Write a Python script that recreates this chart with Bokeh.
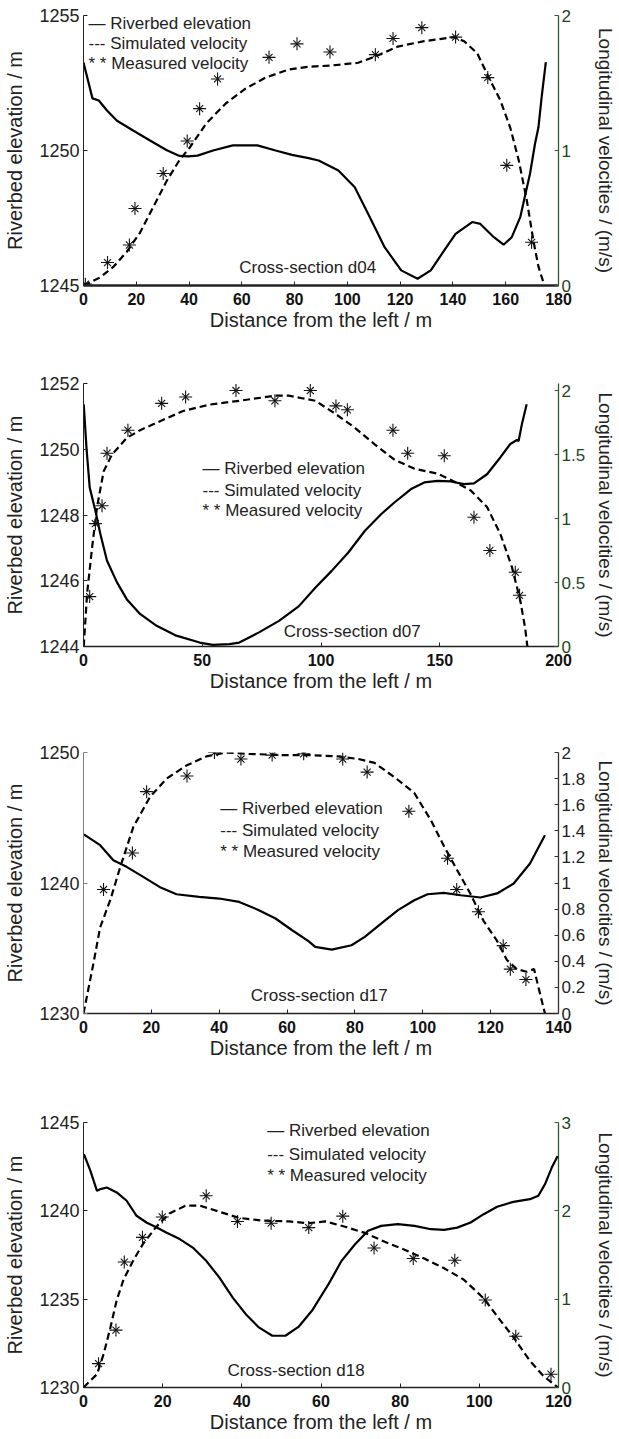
from bokeh.plotting import figure
from bokeh.models import Range1d, LinearAxis, FixedTicker, CustomJSTickFormatter, Label
from bokeh.layouts import column
from bokeh.embed import file_html
from bokeh.resources import INLINE

FONT = "Liberation Sans"

# ---------------- data: cross-section d04 ----------------
d04_bed_x = [0, 3.4, 5.8, 8.9, 12.7, 18.8, 25.2, 31.4, 36.4, 39.6, 43.2, 49.1, 56.6, 65.9, 72.8, 79.0, 85.3,
             89.1, 96.6, 102.8, 107.9, 114.1, 120.4, 126.6, 131.6, 136.7, 141.0, 147.3, 150.4, 155.5, 159.2,
             162.3, 165.5, 169.2, 171.1, 172.4, 173.6, 175.2]
d04_bed_z = [1253.26, 1251.93, 1251.85, 1251.48, 1251.10, 1250.74, 1250.37, 1250.02, 1249.80, 1249.78, 1249.81,
             1250.00, 1250.19, 1250.19, 1250.00, 1249.84, 1249.72, 1249.63, 1249.26, 1248.64, 1247.65, 1246.42,
             1245.56, 1245.25, 1245.56, 1246.30, 1246.91, 1247.35, 1247.28, 1246.79, 1246.51, 1246.79, 1247.53,
             1249.14, 1250.25, 1250.86, 1251.97, 1253.27]
d04_sim_x = [0, 6.3, 11.4, 16.4, 21.4, 26.4, 31.4, 36.4, 40.2, 46.5, 54.0, 61.5, 69.0, 77.8, 85.3, 94.1, 104.1,
             111.0, 119.1, 129.1, 140.4, 144.2, 149.2, 153.6, 158.0, 161.7, 164.9, 168.0, 170.5, 172.4, 174.5]
d04_sim_v = [0.0, 0.06, 0.14, 0.25, 0.39, 0.58, 0.77, 0.93, 1.02, 1.20, 1.35, 1.46, 1.54, 1.60, 1.62, 1.63, 1.65,
             1.70, 1.77, 1.81, 1.84, 1.81, 1.72, 1.54, 1.37, 1.17, 0.93, 0.63, 0.33, 0.14, 0.01]
d04_meas_x = [0.7, 9.1, 17.4, 19.5, 30.2, 39.3, 44.0, 50.8, 70.3, 80.9, 93.4, 110.6, 117.3, 128.2, 141.0, 153.2,
              160.4, 169.8]
d04_meas_v = [0.01, 0.17, 0.30, 0.57, 0.83, 1.07, 1.31, 1.53, 1.69, 1.79, 1.73, 1.71, 1.83, 1.91, 1.84, 1.54,
              0.89, 0.32]

# ---------------- data: cross-section d07 ----------------
d07_bed_x = [0.1, 1.25, 2.6, 5.0, 7.1, 9.9, 14.1, 18.2, 23.8, 30.8, 39.1, 48.9, 54.4, 61.4, 65.6, 73.9, 82.3,
             90.6, 97.6, 104.5, 111.5, 118.5, 125.4, 130.9, 137.9, 143.5, 149.1, 154.6, 160.2, 164.4, 169.9,
             175.5, 179.7, 182.5, 183.2, 184.6, 186.6]
d07_bed_z = [1251.37, 1250.05, 1248.84, 1248.13, 1247.42, 1246.61, 1245.95, 1245.44, 1244.99, 1244.63, 1244.33,
             1244.12, 1244.05, 1244.07, 1244.12, 1244.43, 1244.78, 1245.22, 1245.79, 1246.30, 1246.86, 1247.52,
             1248.03, 1248.38, 1248.79, 1248.99, 1249.04, 1249.02, 1248.94, 1248.96, 1249.24, 1249.75, 1250.16,
             1250.28, 1250.25, 1250.77, 1251.37]
d07_sim_x = [0.1, 1.5, 3.6, 5.7, 8.5, 12.0, 18.2, 23.8, 32.2, 41.9, 53.0, 65.6, 80.9, 86.4, 92.0, 97.6, 105.9,
             114.2, 122.6, 130.9, 139.2, 149.1, 156.0, 163.0, 169.9, 175.5, 180.4, 183.9, 185.9, 186.9]
d07_sim_v = [0.0, 0.41, 0.77, 1.09, 1.37, 1.50, 1.63, 1.69, 1.76, 1.84, 1.89, 1.92, 1.96, 1.96, 1.94, 1.92, 1.82,
             1.71, 1.58, 1.46, 1.39, 1.35, 1.29, 1.22, 1.09, 0.88, 0.62, 0.36, 0.15, 0.0]
d07_meas_x = [2.6, 5.0, 7.8, 9.9, 18.7, 32.9, 43.0, 64.2, 80.6, 95.5, 106.3, 111.1, 130.3, 136.5, 151.9, 164.4,
              171.1, 181.8, 183.6]
d07_meas_v = [0.39, 0.96, 1.10, 1.51, 1.69, 1.90, 1.95, 2.00, 1.92, 2.00, 1.88, 1.85, 1.69, 1.51, 1.49, 1.01,
              0.75, 0.58, 0.40]

# ---------------- data: cross-section d17 ----------------
d17_bed_x = [0.1, 4.9, 8.8, 12.7, 17.6, 22.4, 27.4, 34.1, 40.0, 45.9, 51.7, 56.6, 61.5, 66.3, 68.3, 73.2, 79.0,
             82.9, 87.8, 92.7, 97.5, 101.4, 106.2, 111.2, 117.0, 121.9, 126.8, 131.6, 136.0]
d17_bed_z = [1243.72, 1242.90, 1241.75, 1241.24, 1240.47, 1239.70, 1239.14, 1238.93, 1238.81, 1238.55, 1237.92,
             1237.28, 1236.38, 1235.55, 1235.10, 1234.90, 1235.23, 1235.87, 1236.90, 1237.92, 1238.68, 1239.14,
             1239.24, 1239.06, 1238.89, 1239.20, 1239.96, 1241.49, 1243.66]
d17_sim_x = [0, 2.9, 4.9, 7.9, 10.8, 14.7, 19.6, 24.5, 30.3, 36.2, 42.0, 48.8, 58.5, 66.3, 75.1, 81.0, 85.8, 91.7,
             97.5, 102.4, 106.3, 110.1, 114.0, 117.9, 121.8, 124.8, 127.7, 130.6, 132.8, 134.1, 136.0]
d17_sim_v = [0.0, 0.38, 0.66, 0.87, 1.12, 1.43, 1.66, 1.80, 1.90, 1.97, 2.00, 1.99, 1.98, 1.98, 1.97, 1.95, 1.92,
             1.81, 1.69, 1.48, 1.28, 1.10, 0.92, 0.71, 0.56, 0.41, 0.34, 0.32, 0.34, 0.20, 0.0]
d17_meas_x = [5.9, 14.4, 18.6, 30.5, 38.6, 46.4, 55.6, 64.9, 76.4, 83.6, 95.9, 107.3, 110.0, 116.4, 123.7, 125.8,
              130.4]
d17_meas_v = [0.95, 1.23, 1.70, 1.82, 2.00, 1.95, 1.98, 1.99, 1.95, 1.85, 1.55, 1.19, 0.95, 0.78, 0.52, 0.34, 0.26]

# ---------------- data: cross-section d18 ----------------
d18_bed_x = [0.1, 1.75, 3.4, 4.3, 5.9, 8.4, 10.9, 13.4, 15.9, 18.5, 20.9, 24.3, 27.6, 31.0, 34.3, 37.7, 41.0,
             44.3, 47.7, 51.0, 54.4, 57.7, 61.9, 65.2, 68.6, 71.9, 75.2, 79.4, 83.6, 87.8, 91.1, 94.4, 97.8, 101.1,
             104.5, 108.6, 112.8, 114.9, 116.6, 118.3, 119.8]
d18_bed_z = [1243.21, 1242.26, 1241.13, 1241.23, 1241.32, 1241.04, 1240.57, 1239.72, 1239.34, 1239.06, 1238.77,
             1238.40, 1237.92, 1237.17, 1236.23, 1235.09, 1234.15, 1233.40, 1232.93, 1232.93, 1233.45, 1234.34,
             1235.85, 1237.17, 1238.11, 1238.87, 1239.15, 1239.25, 1239.15, 1238.96, 1238.92, 1239.05, 1239.34,
             1239.81, 1240.23, 1240.51, 1240.66, 1240.85, 1241.51, 1242.45, 1243.11]
d18_sim_x = [0, 3.4, 5.1, 6.8, 8.4, 10.1, 12.6, 15.1, 18.4, 21.7, 25.9, 29.3, 34.3, 39.3, 45.2, 51.9, 56.9, 61.1,
             66.1, 71.1, 76.1, 81.1, 86.1, 91.1, 96.1, 101.1, 105.3, 108.6, 112.8, 116.2, 119.9]
d18_sim_v = [0.0, 0.15, 0.38, 0.68, 0.99, 1.22, 1.44, 1.63, 1.82, 1.97, 2.06, 2.06, 1.99, 1.92, 1.89, 1.88, 1.86,
             1.88, 1.82, 1.75, 1.65, 1.56, 1.46, 1.35, 1.22, 1.01, 0.76, 0.57, 0.30, 0.13, 0.0]
d18_meas_x = [3.8, 8.2, 10.3, 14.9, 19.9, 31.0, 38.9, 47.4, 56.9, 65.5, 73.4, 83.3, 93.8, 101.5, 109.2, 118.1]
d18_meas_v = [0.27, 0.65, 1.42, 1.70, 1.93, 2.17, 1.88, 1.86, 1.81, 1.94, 1.58, 1.46, 1.44, 0.99, 0.58, 0.15]

# ---------------- axes / labels ----------------
x_ticks = {"d04": [0, 20, 40, 60, 80, 100, 120, 140, 160, 180],
           "d07": [0, 50, 100, 150, 200],
           "d17": [0, 20, 40, 60, 80, 100, 120, 140],
           "d18": [0, 20, 40, 60, 80, 100, 120]}
elev_ticks = {"d04": [1245, 1250, 1255],
              "d07": [1244, 1246, 1248, 1250, 1252],
              "d17": [1230, 1240, 1250],
              "d18": [1230, 1235, 1240, 1245]}
vel_ticks = {"d04": [0, 1, 2],
             "d07": [0, 0.5, 1, 1.5, 2],
             "d17": [0, 0.2, 0.4, 0.6, 0.8, 1, 1.2, 1.4, 1.6, 1.8, 2],
             "d18": [0, 1, 2, 3]}
legend_texts = ["\u2014 Riverbed elevation", "--- Simulated velocity", "* * Measured velocity"]
section_titles = {"d04": "Cross-section d04", "d07": "Cross-section d07",
                  "d17": "Cross-section d17", "d18": "Cross-section d18"}
x_label = "Distance from the left / m"
y_label = "Riverbed elevation / m"
v_label = "Longitudinal velocities / (m/s)"

GREEN_LINE = "#2f5a2f"
GREEN_TEXT = "#1d461d"
fmt = CustomJSTickFormatter(code="return String(Number(tick.toFixed(4)));")


def panel(key, height, top, bottom, xr, yr, vr, bed, sim, meas, legend_pos, section_pos,
          left_col, right_col, right_txt, bottom_w, r_standoff, t_standoff, l_standoff):
    p = figure(width=619, height=height, output_backend="svg", toolbar_location=None,
               x_range=Range1d(*xr), y_range=Range1d(*yr),
               min_border_left=83, min_border_right=57, min_border_top=top, min_border_bottom=bottom)
    p.extra_y_ranges = {"v": Range1d(*vr)}
    p.outline_line_color = None
    p.xgrid.visible = False
    p.ygrid.visible = False
    p.background_fill_color = "white"
    p.border_fill_color = "white"

    xa = p.xaxis[0]
    xa.ticker = FixedTicker(ticks=x_ticks[key])
    xa.formatter = fmt
    xa.axis_label = x_label
    xa.axis_label_text_font = FONT
    xa.axis_label_text_font_size = "20px"
    xa.axis_label_text_font_style = "normal"
    xa.axis_label_text_color = "#222222"
    xa.axis_label_standoff = l_standoff
    xa.major_label_text_font = FONT
    xa.major_label_text_font_size = "16px"
    xa.major_label_text_font_style = "bold"
    xa.major_label_text_color = "#111111"
    xa.major_label_standoff = t_standoff
    xa.major_tick_in = 4
    xa.major_tick_out = 0
    xa.minor_tick_in = 0
    xa.minor_tick_out = 0
    xa.axis_line_color = "#222222"
    xa.axis_line_width = bottom_w
    xa.major_tick_line_color = "#222222"

    ya = p.yaxis[0]
    ya.ticker = FixedTicker(ticks=elev_ticks[key])
    ya.formatter = fmt
    ya.axis_label = y_label
    ya.axis_label_text_font = FONT
    ya.axis_label_text_font_size = "20px"
    ya.axis_label_text_font_style = "normal"
    ya.axis_label_text_color = "#222222"
    ya.axis_label_standoff = 10
    ya.major_label_text_font = FONT
    ya.major_label_text_font_size = "18px"
    ya.major_label_text_color = "#222222"
    ya.major_label_standoff = 4
    ya.major_tick_in = 4
    ya.major_tick_out = 0
    ya.minor_tick_in = 0
    ya.minor_tick_out = 0
    ya.axis_line_color = left_col
    ya.major_tick_line_color = left_col

    ra = LinearAxis(y_range_name="v", ticker=FixedTicker(ticks=vel_ticks[key]), formatter=fmt)
    ra.axis_label = v_label
    ra.axis_label_text_font = FONT
    ra.axis_label_text_font_size = "19px"
    ra.axis_label_text_font_style = "normal"
    ra.axis_label_text_color = "#222222"
    ra.axis_label_standoff = r_standoff
    ra.major_label_text_font = FONT
    ra.major_label_text_font_size = "17px"
    ra.major_label_text_color = right_txt
    ra.major_label_standoff = 3
    ra.major_tick_in = 4
    ra.major_tick_out = 0
    ra.minor_tick_in = 0
    ra.minor_tick_out = 0
    ra.axis_line_color = right_col
    ra.axis_line_width = 1.3
    ra.major_tick_line_color = right_col
    p.add_layout(ra, "right")

    p.line(bed[0], bed[1], line_width=2.2, line_color="black")
    p.line(sim[0], sim[1], y_range_name="v", line_width=2.2, line_color="black", line_dash="7 4")
    p.scatter(meas[0], meas[1], y_range_name="v", marker="cross", size=13, line_color="#111111", line_width=1.1)
    p.scatter(meas[0], meas[1], y_range_name="v", marker="x", size=10, line_color="#111111", line_width=1.1)

    lx, ly = legend_pos
    for txt, yy in zip(legend_texts, ly):
        p.add_layout(Label(x=lx, y=yy, text=txt, text_font=FONT, text_font_size="17px",
                           text_baseline="middle", text_align="left", text_color="#222222"))
    p.add_layout(Label(x=section_pos[0], y=section_pos[1], text=section_titles[key], text_font=FONT,
                       text_font_size="17px", text_baseline="middle", text_align="left", text_color="#222222"))
    return p


p1 = panel("d04", 371, 15, 86, (0, 180), (1245, 1255), (0, 2),
           (d04_bed_x, d04_bed_z), (d04_sim_x, d04_sim_v), (d04_meas_x, d04_meas_v),
           (1.9, [1254.70, 1253.95, 1253.21]), (59.0, 1245.68),
           "#222222", GREEN_LINE, GREEN_TEXT, 2.6, 21, 7, 1)
p2 = panel("d07", 369, 12, 94, (0, 200), (1244, 1252), (0, 2.055),
           (d07_bed_x, d07_bed_z), (d07_sim_x, d07_sim_v), (d07_meas_x, d07_meas_v),
           (50.1, [1249.41, 1248.74, 1248.13]), (84.3, 1244.46),
           "#222222", GREEN_LINE, GREEN_TEXT, 1.6, 7, 7, 1)
p3 = panel("d17", 370, 12, 97, (0, 140), (1230, 1250), (0, 2),
           (d17_bed_x, d17_bed_z), (d17_sim_x, d17_sim_v), (d17_meas_x, d17_meas_v),
           (40.3, [1245.71, 1244.05, 1242.44]), (49.3, 1231.40),
           "#808080", "#333333", "#222222", 1.6, 7, 7, 1)
p4 = panel("d18", 328, 12, 51, (0, 120), (1230, 1245), (0, 3),
           (d18_bed_x, d18_bed_z), (d18_sim_x, d18_sim_v), (d18_meas_x, d18_meas_v),
           (46.4, [1244.53, 1243.21, 1241.98]), (36.4, 1230.98),
           "#222222", GREEN_LINE, GREEN_TEXT, 1.6, 21, 7, 1)

layout = column(p1, p2, p3, p4, spacing=0)
open("out.html", "w").write(file_html(layout, INLINE))
